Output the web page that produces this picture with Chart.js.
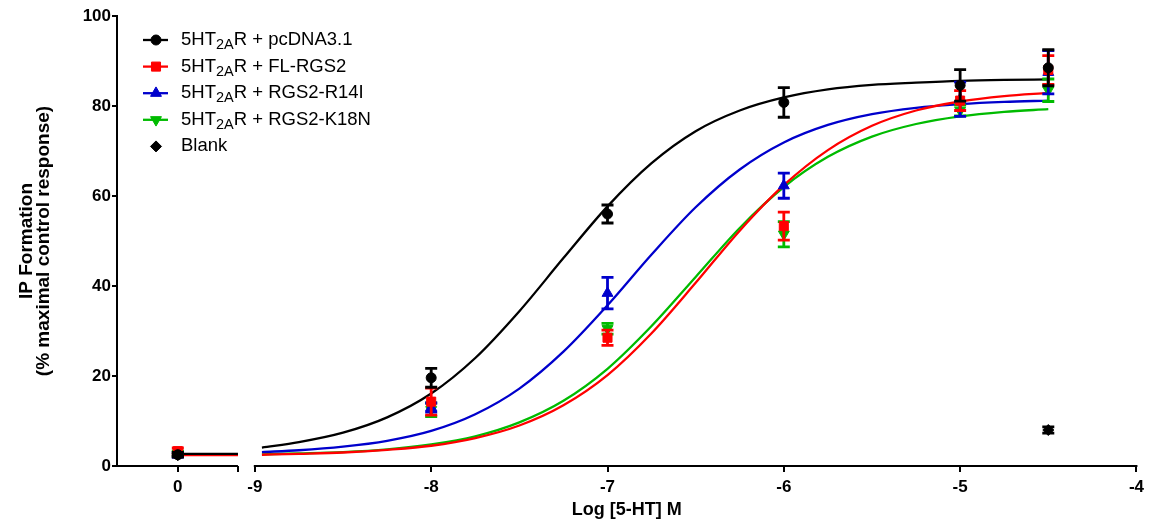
<!DOCTYPE html>
<html>
<head>
<meta charset="utf-8">
<title>IP formation</title>
<script src="https://cdn.jsdelivr.net/npm/chart.js@4.4.1/dist/chart.umd.min.js"></script>
<style>
  body { margin: 0; background: #fff; }
  #wrap { width: 1149px; height: 523px; }
</style>
</head>
<body>
<div id="wrap"><canvas id="ipChart"></canvas></div>
<script>
// log [5-HT] M of the measured points; null = no 5-HT (the "0" column)
const doses = [null, -8, -7, -6, -5, -4.5];

const pcdnaMean = [2.5, 19.6, 56.0, 80.8, 84.6, 88.5];
const pcdnaSem  = [0.5, 2.1, 2.0, 3.3, 3.5, 4.0];
const flMean    = [3.3, 14.3, 28.5, 53.3, 81.2, 88.0];
const flSem     = [0.7, 3.0, 1.7, 3.1, 2.2, 3.2];
const r14iMean  = [2.5, 13.0, 38.4, 62.3, 81.5, 87.5];
const r14iSem   = [0.5, 1.0, 3.5, 2.8, 3.8, 4.8];
const k18nMean  = [2.8, 12.5, 30.5, 51.5, 79.0, 83.5];
const k18nSem   = [0.5, 1.5, 1.2, 2.8, 1.2, 2.5];

const blankDoses = [null, -4.5];
const blankMean  = [2.4, 8.0];
const blankSem   = [0.3, 0.7];

// fitted curves
const curveX    = [-8.96, -8.75, -8.5, -8.25, -8, -7.75, -7.5, -7.25, -7, -6.75, -6.5, -6.25, -6, -5.75, -5.5, -5.25, -5, -4.75, -4.5];
const pcdnaFit  = [4.1, 5.3, 7.4, 10.8, 16.1, 24.0, 34.4, 46.2, 57.7, 67.3, 74.4, 79.0, 81.9, 83.7, 84.7, 85.2, 85.6, 85.8, 85.9];
const flFit     = [2.5, 2.7, 3.0, 3.6, 4.5, 6.2, 9.0, 13.5, 20.2, 29.5, 40.7, 52.3, 62.4, 70.2, 75.6, 79.0, 81.0, 82.2, 82.9];
const r14iFit   = [3.1, 3.5, 4.3, 5.6, 7.8, 11.5, 17.2, 25.4, 35.7, 47.0, 57.5, 65.9, 71.9, 75.8, 78.2, 79.6, 80.4, 80.9, 81.2];
const k18nFit   = [2.6, 2.8, 3.1, 3.7, 4.8, 6.6, 9.7, 14.5, 21.6, 31.1, 42.0, 52.9, 62.0, 68.7, 73.2, 76.0, 77.7, 78.7, 79.3];
// flat part of each curve on the "0" segment
const zeroFit   = [2.7, 2.4, 2.6, 2.5];

const xTickValues = [-9, -8, -7, -6, -5, -4];
const yTickStep = 20;

// broken x axis: the "0" column sits on a short segment left of -9
const ZERO_POS = -9.437;
const BREAK_LEFT = -9.096;
const BREAK_RIGHT = -9.006;
const X_MIN = -9.782;
const X_MAX = -4;

const FONT = "'Liberation Sans', Arial, sans-serif";

const xPos = d => (d === null ? ZERO_POS : d);

const series = [
  { name: ['5HT', '2A', 'R + pcDNA3.1'], color: '#000000', style: 'circle', radius: 5, rotation: 0, mean: pcdnaMean, sem: pcdnaSem, fit: pcdnaFit },
  { name: ['5HT', '2A', 'R + FL-RGS2'], color: '#ff0000', style: 'rect', radius: 6.4, rotation: 0, mean: flMean, sem: flSem, fit: flFit },
  { name: ['5HT', '2A', 'R + RGS2-R14I'], color: '#0000cc', style: 'triangle', radius: 6.3, rotation: 0, mean: r14iMean, sem: r14iSem, fit: r14iFit },
  { name: ['5HT', '2A', 'R + RGS2-K18N'], color: '#00bb00', style: 'triangle', radius: 6.3, rotation: 180, mean: k18nMean, sem: k18nSem, fit: k18nFit }
];

const datasets = [];
series.forEach((s, i) => {
  const line = [
    { x: ZERO_POS, y: zeroFit[i] },
    { x: BREAK_LEFT, y: zeroFit[i] },
    { x: (BREAK_LEFT + BREAK_RIGHT) / 2, y: null }
  ].concat(curveX.map((x, k) => ({ x: x, y: s.fit[k] })));
  datasets.push({
    label: s.name.join('') + ' fit',
    data: line,
    showLine: true,
    spanGaps: false,
    borderColor: s.color,
    borderWidth: 2.3,
    pointRadius: 0,
    cubicInterpolationMode: 'monotone',
    order: 2
  });
});
series.forEach((s, i) => {
  datasets.push({
    label: s.name.join(''),
    data: doses.map((d, k) => ({ x: xPos(d), y: s.mean[k] })),
    errors: s.sem,
    showLine: false,
    pointStyle: s.style,
    pointRadius: s.radius,
    pointRotation: s.rotation,
    backgroundColor: s.color,
    borderColor: s.color,
    borderWidth: 1,
    order: 1
  });
});
datasets.push({
  label: 'Blank',
  data: blankDoses.map((d, k) => ({ x: xPos(d), y: blankMean[k] })),
  errors: blankSem,
  showLine: false,
  pointStyle: 'rectRot',
  pointRadius: 5.5,
  backgroundColor: '#000000',
  borderColor: '#000000',
  borderWidth: 1,
  order: 0
});

// error bars, drawn right after each marker dataset
const errorBars = {
  id: 'errorBars',
  afterDatasetDraw(chart, args) {
    const ds = chart.data.datasets[args.index];
    if (!ds.errors) return;
    const ctx = chart.ctx;
    const xs = chart.scales.x, ys = chart.scales.y;
    ctx.save();
    ctx.strokeStyle = ds.borderColor;
    ctx.lineWidth = 2.8;
    ds.data.forEach((p, k) => {
      const e = ds.errors[k];
      const px = xs.getPixelForValue(p.x);
      const top = ys.getPixelForValue(p.y + e);
      const bot = ys.getPixelForValue(p.y - e);
      ctx.beginPath();
      ctx.moveTo(px, top); ctx.lineTo(px, bot);
      ctx.moveTo(px - 6, top); ctx.lineTo(px + 6, top);
      ctx.moveTo(px - 6, bot); ctx.lineTo(px + 6, bot);
      ctx.stroke();
    });
    ctx.restore();
  }
};

// x axis line drawn in two pieces for the break
const brokenAxis = {
  id: 'brokenAxis',
  afterDraw(chart) {
    const ctx = chart.ctx;
    const xs = chart.scales.x;
    const y = chart.chartArea.bottom;
    ctx.save();
    ctx.strokeStyle = '#000';
    ctx.lineWidth = 2;
    ctx.beginPath();
    ctx.moveTo(chart.chartArea.left - 1, y);
    ctx.lineTo(xs.getPixelForValue(BREAK_LEFT), y);
    ctx.moveTo(xs.getPixelForValue(BREAK_RIGHT), y);
    ctx.lineTo(chart.chartArea.right + 1, y);
    ctx.stroke();
    ctx.restore();
  }
};

// legend inside the plot, top left
const insideLegend = {
  id: 'insideLegend',
  afterDraw(chart) {
    const ctx = chart.ctx;
    const area = chart.chartArea;
    const lineX0 = area.left + 26, lineX1 = area.left + 51, markX = area.left + 39;
    const textX = area.left + 64;
    const rows = series.map(s => s).concat([{ name: ['Blank'], color: '#000000', style: 'rectRot', radius: 5.5, rotation: 0, noLine: true }]);
    const draw = Chart.helpers && Chart.helpers.drawPoint;
    ctx.save();
    rows.forEach((s, i) => {
      const y = area.top + 24 + i * 26.6;
      ctx.strokeStyle = s.color;
      ctx.fillStyle = s.color;
      if (!s.noLine) {
        ctx.lineWidth = 2.3;
        ctx.beginPath();
        ctx.moveTo(lineX0, y); ctx.lineTo(lineX1, y);
        ctx.stroke();
      }
      ctx.lineWidth = 1;
      if (draw) draw(ctx, { pointStyle: s.style, radius: s.radius, rotation: s.rotation, borderWidth: 1 }, markX, y);
      ctx.fillStyle = '#000';
      ctx.textBaseline = 'middle';
      ctx.textAlign = 'left';
      let x = textX;
      ctx.font = '18.5px ' + FONT;
      ctx.fillText(s.name[0], x, y);
      x += ctx.measureText(s.name[0]).width;
      if (s.name.length > 1) {
        ctx.font = '14.5px ' + FONT;
        ctx.fillText(s.name[1], x, y + 5);
        x += ctx.measureText(s.name[1]).width;
        ctx.font = '18.5px ' + FONT;
        ctx.fillText(s.name[2], x, y);
      }
    });
    ctx.restore();
  }
};

new Chart(document.getElementById('ipChart'), {
  type: 'scatter',
  data: { datasets: datasets },
  options: {
    responsive: true,
    maintainAspectRatio: false,
    animation: false,
    layout: { padding: { top: 16, right: 12 } },
    plugins: { legend: { display: false }, tooltip: { enabled: false } },
    scales: {
      x: {
        type: 'linear',
        min: X_MIN,
        max: X_MAX,
        afterFit(scale) { scale.height = 57; },
        afterBuildTicks(scale) {
          scale.ticks = [ZERO_POS, BREAK_LEFT].concat(xTickValues).map(v => ({ value: v }));
        },
        border: { display: false },
        grid: { drawOnChartArea: false, drawTicks: true, tickLength: 6, color: '#000', lineWidth: 2 },
        ticks: {
          autoSkip: false,
          maxRotation: 0,
          padding: 5,
          color: '#000',
          font: { family: FONT, size: 17, weight: 'bold' },
          callback: v => (v === ZERO_POS ? '0' : v === BREAK_LEFT ? '' : String(v))
        },
        title: {
          display: true,
          text: 'Log [5-HT] M',
          color: '#000',
          font: { family: FONT, size: 18, weight: 'bold' },
          padding: { top: 0, bottom: 2 }
        }
      },
      y: {
        min: 0,
        max: 100,
        afterFit(scale) { scale.width = 117; },
        border: { display: true, color: '#000', width: 2 },
        grid: { drawOnChartArea: false, drawTicks: true, tickLength: 5, color: '#000', lineWidth: 2 },
        ticks: {
          stepSize: yTickStep,
          padding: 1,
          color: '#000',
          font: { family: FONT, size: 17, weight: 'bold' }
        },
        title: {
          display: true,
          text: ['IP Formation', '(% maximal control response)'],
          color: '#000',
          font: { family: FONT, size: 19, weight: 'bold', lineHeight: 0.92 },
          padding: { top: 18, bottom: 0 }
        }
      }
    }
  },
  plugins: [errorBars, brokenAxis, insideLegend]
});
</script>
</body>
</html>
